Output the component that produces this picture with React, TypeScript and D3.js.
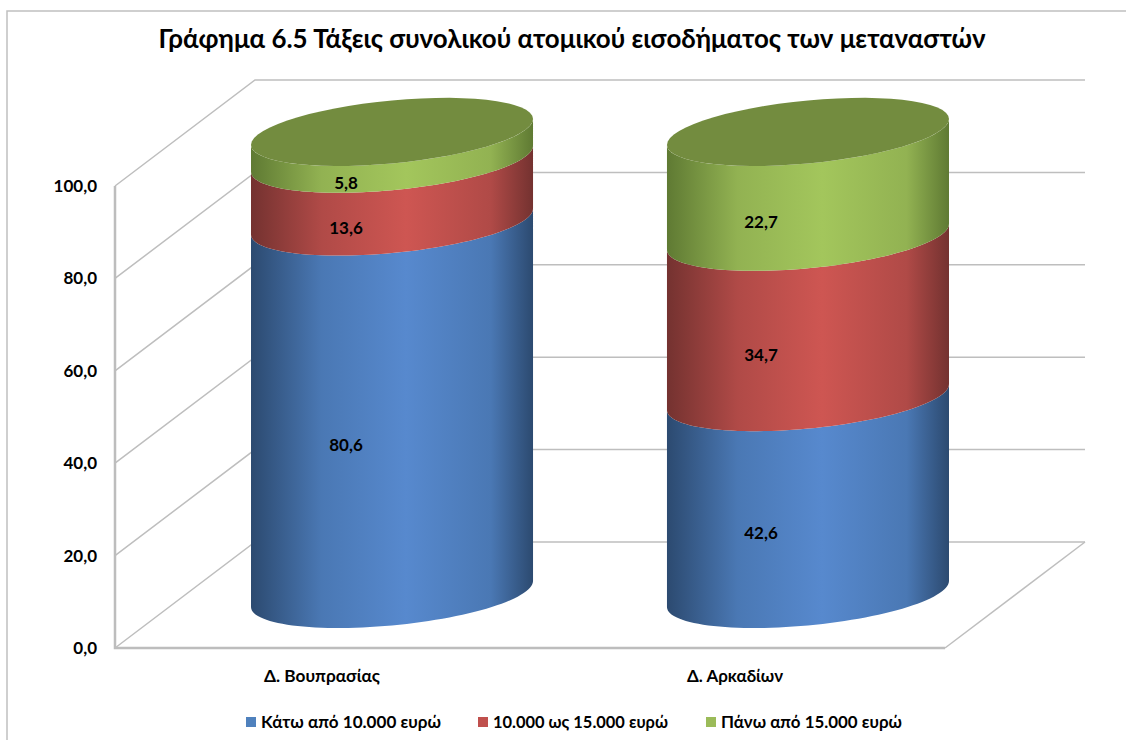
import React from 'react';
import * as d3 from 'd3';

const title = 'Γράφημα 6.5 Τάξεις συνολικού ατομικού εισοδήματος των μεταναστών';
const categories = ['Δ. Βουπρασίας', 'Δ. Αρκαδίων'];
const seriesNames = ['Κάτω από 10.000 ευρώ', '10.000 ως 15.000 ευρώ', 'Πάνω από 15.000 ευρώ'];
const below10k = [80.6, 42.6];
const from10to15k = [13.6, 34.7];
const above15k = [5.8, 22.7];
const ticks = [0, 20, 40, 60, 80, 100];
const legendColors = ['#4F81BD', '#C0504D', '#9BBB59'];
const gradStops = [
  ['#2C4A70', '#4A78B4', '#5789CE', '#4A78B4', '#2C4A70'],
  ['#743230', '#B04A47', '#CE5652', '#B04A47', '#743230'],
  ['#5F7A33', '#92B252', '#A3C65C', '#92B252', '#5F7A33'],
];
const gradOffsets = [0, 0.25, 0.55, 0.85, 1];
const labelX = [346, 761];
const catX = [322, 735];
const catWidth = [116, 96];
const legendX = [246, 478, 706];
const legendEnd = [441, 668, 902];

const FONT = 'Lato, "Open Sans", "Noto Sans", sans-serif';
const fmt = (v: number) => v.toFixed(1).replace('.', ',');

const y = d3.scaleLinear().domain([0, 100]).range([648, 186]);
const x0 = 115, x1 = 945, dx = 140, dy = -106;
const barX = d3.scaleBand<number>().domain([0, 1]).range([251, 949]).paddingInner(0.322);
const A = () => barX.bandwidth() / 2;
const LIFT = 20, B = 31.5, S = 13;
const H = Math.hypot(B, S);
const centerY = (v: number) => y(v) - LIFT - H;

const ts = (a: number, b: number) => d3.range(0, 61).map((i) => a + ((b - a) * i) / 60);
const pt = (i: number, v: number, t: number): [number, number] => [
  barX(i)! + A() + A() * Math.cos(t),
  centerY(v) + B * Math.sin(t) - S * Math.cos(t),
];
const line = d3.line();

export default function App() {
  const stacks = categories.map((_, i) => {
    const vals = [below10k[i], from10to15k[i], above15k[i]];
    let acc = 0;
    return vals.map((v) => {
      const r = { lo: acc, hi: acc + v, v };
      acc += v;
      return r;
    });
  });
  return (
    <svg width={1126} height={740} style={{ position: 'absolute', left: 0, top: 0, background: '#fff' }} fontFamily={FONT}>
      <defs>
        {gradStops.map((g, s) => (
          <linearGradient key={s} id={`g${s}`} x1="0" x2="1" y1="0" y2="0">
            {g.map((c, k) => <stop key={k} offset={gradOffsets[k]} stopColor={c} />)}
          </linearGradient>
        ))}
      </defs>
      <path d="M7,740V11H1126" fill="none" stroke="#c0c0c0" strokeWidth={1.5} />
      <text x={572} y={48} textAnchor="middle" fontSize={26} fontWeight={700} fill="#000" textLength={827} lengthAdjust="spacingAndGlyphs">{title}</text>

      {ticks.map((t) => (
        <g key={t} stroke="#bebebe" strokeWidth={1.5} fill="none">
          <path d={line([[x0, y(t)], [x0 + dx, y(t) + dy], [x1 + dx, y(t) + dy]])!} />
        </g>
      ))}
      <path d={line([[x1, y(0)], [x1 + dx, y(0) + dy]])!} stroke="#bebebe" strokeWidth={1.5} fill="none" />
      <path d={line([[x0, y(100)], [x0, y(0)], [x1, y(0)]])!} stroke="#bdbdbd" strokeWidth={2.5} fill="none" />

      {ticks.map((t) => (
        <text key={t} x={97} y={y(t) + 6} textAnchor="end" fontSize={17} fontWeight={700}>{fmt(t)}</text>
      ))}

      {stacks.map((stack, i) => (
        <g key={i}>
          {stack.map((b, s) => {
            const d = line([
              ...ts(0, Math.PI).map((t) => pt(i, b.lo, t)),
              ...ts(Math.PI, 0).map((t) => pt(i, b.hi, t)),
            ])! + 'Z';
            return <path key={s} d={d} fill={`url(#g${s})`} />;
          })}
          <path d={line(ts(0, 2 * Math.PI).map((t) => pt(i, 100, t)))! + 'Z'} fill="#738C3F" />
          {stack.map((b, s) => (
            <text key={s} x={labelX[i]} y={y((b.lo + b.hi) / 2) - LIFT + 9.5} textAnchor="middle" fontSize={17} fontWeight={700}>{fmt(b.v)}</text>
          ))}
        </g>
      ))}

      {categories.map((c, i) => (
        <text key={c} x={catX[i]} y={682} textAnchor="middle" fontSize={17} fontWeight={700} textLength={catWidth[i]} lengthAdjust="spacingAndGlyphs">{c}</text>
      ))}

      {seriesNames.map((n, i) => (
        <g key={n}>
          <rect x={legendX[i]} y={717} width={10} height={10} fill={legendColors[i]} />
          <text x={legendX[i] + 15} y={728} fontSize={17} fontWeight={700} textLength={legendEnd[i] - legendX[i] - 15} lengthAdjust="spacingAndGlyphs">{n}</text>
        </g>
      ))}
    </svg>
  );
}
